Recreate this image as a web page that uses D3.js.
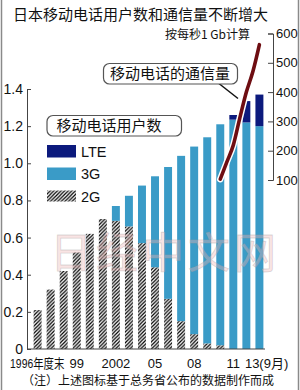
<!DOCTYPE html>
<html>
<head>
<meta charset="utf-8">
<script src="https://cdn.jsdelivr.net/npm/d3@7"></script>
<style>
  body { margin: 0; background: #fff; }
  svg { display: block; }
</style>
</head>
<body>
<script>
const years = ["1996", "1997", "1998", "1999", "2000", "2001", "2002", "2003", "2004",
  "2005", "2006", "2007", "2008", "2009", "2010", "2011", "2012", "2013"];
// subscribers, 100 million
const users2G = [0.21, 0.32, 0.42, 0.52, 0.62, 0.70, 0.69, 0.66, 0.57,
  0.44, 0.27, 0.15, 0.08, 0.03, 0.02, 0, 0, 0];
const users3G = [0, 0, 0, 0, 0, 0, 0.08, 0.165, 0.31,
  0.49, 0.71, 0.89, 1.01, 1.11, 1.19, 1.235, 1.22, 1.20];
const usersLTE = [0, 0, 0, 0, 0, 0, 0, 0, 0,
  0, 0, 0, 0, 0, 0, 0.025, 0.115, 0.17];
const userTicks = [0, 0.2, 0.4, 0.6, 0.8, 1.0, 1.2, 1.4];

// traffic, Gbps (position = bar index)
const trafficPos = [14, 14.5, 15, 15.5, 16, 16.5, 17];
const trafficGbps = [103, 161, 219, 312, 400, 470, 562];
const trafficTicks = [100, 200, 300, 400, 500, 600];

const labelYears = ["1996", "1999", "2002", "2005", "2008", "2011", "2013"];
const labelTexts = ["1996年度末", "99", "2002", "05", "08", "11", "13(9月)"];

const legendKeys = ["LTE", "3G", "2G"];

const W = 300, H = 390;
const cjk = "'Noto Sans CJK SC', sans-serif";
const latin = "'Liberation Sans Narrow', 'Liberation Sans', Arial, sans-serif";
const mixed = "'Liberation Sans', Arial, 'Noto Sans CJK SC', sans-serif";

const svg = d3.select("body").append("svg").attr("width", W).attr("height", H);

const defs = svg.append("defs");
const pat = defs.append("pattern").attr("id", "hatch")
  .attr("patternUnits", "userSpaceOnUse").attr("width", 3.6).attr("height", 3.6);
pat.append("rect").attr("width", 3.6).attr("height", 3.6).attr("fill", "#fff");
pat.append("path").attr("d", "M-1,1 l2,-2 M0,3.6 l3.6,-3.6 M2.6,4.6 l2,-2")
  .attr("stroke", "#000").attr("stroke-width", 1.25);

const colors = { g2: "url(#hatch)", g3: "#3a9bc7", lte: "#0c1a7d" };

const rows = years.map((y, i) => ({ year: y, g2: users2G[i], g3: users3G[i], lte: usersLTE[i] }));
const stack = d3.stack().keys(["g2", "g3", "lte"])(rows);

const x = d3.scaleBand().domain(years).range([31, 266]).paddingInner(0.39).paddingOuter(0.2);
const yL = d3.scaleLinear().domain([0, 1.4]).range([349, 89]);
const yR = d3.scaleLinear().domain([100, 600]).range([180, 33.5]);
const xi = d3.scaleLinear().domain([0, years.length - 1])
  .range([x(years[0]) + x.bandwidth() / 2, x(years[years.length - 1]) + x.bandwidth() / 2]);

// side frame
svg.append("line").attr("x1", 1.5).attr("x2", 1.5).attr("y1", 0).attr("y2", H)
  .attr("stroke", "#8a8a8a").attr("stroke-width", 1.5);
svg.append("line").attr("x1", 298.5).attr("x2", 298.5).attr("y1", 0).attr("y2", H)
  .attr("stroke", "#8a8a8a").attr("stroke-width", 1.5);

// bars
svg.append("g").selectAll("g").data(stack).join("g")
  .attr("fill", d => colors[d.key])
  .selectAll("rect").data(d => d).join("rect")
  .attr("x", d => x(d.data.year))
  .attr("width", x.bandwidth())
  .attr("y", d => yL(d[1]))
  .attr("height", d => yL(d[0]) - yL(d[1]));

// left axis
const axL = svg.append("g").attr("transform", "translate(27,0)")
  .call(d3.axisLeft(yL).tickValues(userTicks)
    .tickFormat(d => d === 0 ? "0" : d3.format(".1f")(d))
    .tickSizeInner(-4).tickSizeOuter(-4).tickPadding(4));
axL.attr("color", "#444");
axL.selectAll("text").attr("font-family", latin).attr("font-size", 14).attr("fill", "#111");

// baseline
svg.append("line").attr("x1", 27).attr("x2", 265).attr("y1", yL(0)).attr("y2", yL(0))
  .attr("stroke", "#444");

// right axis
const axR = svg.append("g").attr("transform", "translate(273,0)")
  .call(d3.axisRight(yR).tickValues(trafficTicks)
    .tickSizeInner(-5).tickSizeOuter(-5).tickPadding(3));
axR.attr("color", "#444");
axR.selectAll("text").attr("font-family", latin).attr("font-size", 13).attr("fill", "#111");

// x labels (first one is squeezed horizontally, as in the original)
const last = labelYears.length - 1;
svg.append("g").selectAll("text").data(labelYears).join("text")
  .attr("transform", (d, i) => {
    const c = x(d) + x.bandwidth() / 2;
    if (i === 0) return `translate(${c - 27.5},367.5) scale(0.8,1)`;
    if (i === last) return `translate(${c - 14.5},367.5)`;
    return `translate(${c},367.5)`;
  })
  .attr("text-anchor", (d, i) => i === 0 || i === last ? "start" : "middle")
  .attr("font-family", mixed).attr("font-size", 13).attr("fill", "#111")
  .text((d, i) => labelTexts[i]);

// traffic line
const pts = trafficPos.map((p, i) => [xi(p), yR(trafficGbps[i])]);
const line = d3.line().curve(d3.curveMonotoneX);
svg.append("path").attr("d", line(pts)).attr("fill", "none")
  .attr("stroke", "#fff").attr("stroke-width", 6.5).attr("stroke-linecap", "round");
svg.append("path").attr("d", line(pts)).attr("fill", "none")
  .attr("stroke", "#6e0d12").attr("stroke-width", 3.6).attr("stroke-linecap", "round");

// callouts
svg.append("line").attr("x1", 217).attr("y1", 82).attr("x2", 238).attr("y2", 98.5)
  .attr("stroke", "#111").attr("stroke-width", 1.5);
svg.append("rect").attr("x", 103.5).attr("y", 63.5).attr("width", 134).attr("height", 20.5)
  .attr("rx", 6).attr("fill", "#fff").attr("stroke", "#555").attr("stroke-width", 1.2);
svg.append("text").attr("x", 110).attr("y", 79).attr("font-family", cjk).attr("font-size", 15)
  .attr("fill", "#111").text("移动电话的通信量");

svg.append("rect").attr("x", 47).attr("y", 115.5).attr("width", 134.5).attr("height", 20.5)
  .attr("rx", 6).attr("fill", "#fff").attr("stroke", "#555").attr("stroke-width", 1.2);
svg.append("text").attr("x", 56.5).attr("y", 131).attr("font-family", cjk).attr("font-size", 15)
  .attr("fill", "#111").text("移动电话用户数");

// legend
const legY = { LTE: 145, "3G": 167.5, "2G": 190.5 };
const legFill = { LTE: colors.lte, "3G": colors.g3, "2G": colors.g2 };
const leg = svg.append("g").selectAll("g").data(legendKeys).join("g")
  .attr("transform", d => `translate(47,${legY[d]})`);
leg.append("rect").attr("width", 29).attr("height", d => d === "2G" ? 11 : 12.5)
  .attr("fill", d => legFill[d]);
leg.append("text").attr("x", 34).attr("y", 11.5).attr("font-family", "'Liberation Sans', Arial, sans-serif")
  .attr("font-size", 14.5).attr("fill", "#111").text(d => d);

// titles
svg.append("text").attr("x", 13).attr("y", 20).attr("font-family", cjk).attr("font-size", 15)
  .attr("fill", "#111").text("日本移动电话用户数和通信量不断增大");
svg.append("text").attr("x", 250).attr("y", 39).attr("text-anchor", "end")
  .attr("font-family", cjk).attr("font-size", 12).attr("fill", "#111").text("按每秒1 Gb计算");
svg.append("text").attr("x", 148).attr("y", 385).attr("text-anchor", "middle")
  .attr("font-family", cjk).attr("font-size", 12).attr("fill", "#111")
  .text("（注）上述图标基于总务省公布的数据制作而成");

// watermark
svg.append("text").attr("x", 50).attr("y", 268).attr("font-family", cjk).attr("font-size", 42)
  .attr("letter-spacing", 4)
  .attr("fill", "#f0b8b8").attr("fill-opacity", 0.4)
  .attr("stroke", "#9a9a9a").attr("stroke-opacity", 0.35).attr("stroke-width", 0.8)
  .text("日经中文网");
</script>
</body>
</html>
